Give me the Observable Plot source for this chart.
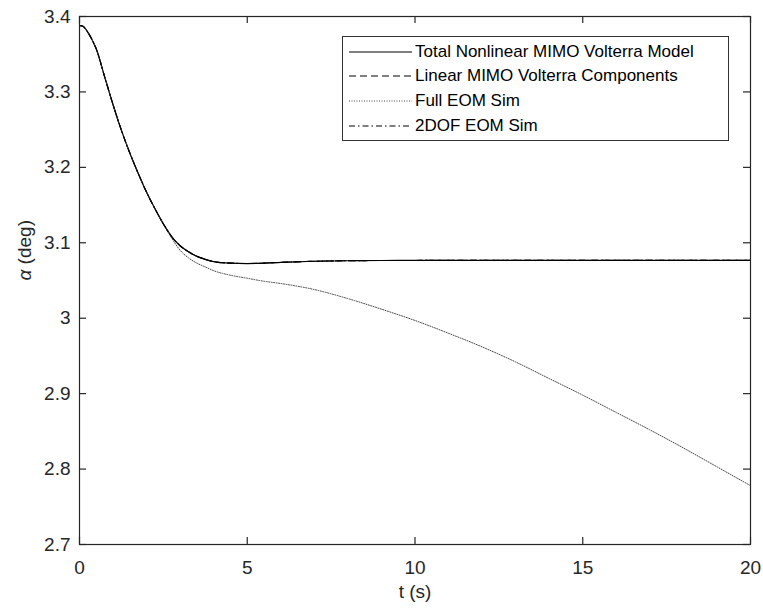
<!DOCTYPE html>
<html>
<head>
<meta charset="utf-8">
<script src="https://cdn.jsdelivr.net/npm/d3@7"></script>
<script src="https://cdn.jsdelivr.net/npm/@observablehq/plot@0.6"></script>
<style>
  body { margin: 0; background: #fff; }
  #wrap { position: relative; width: 763px; height: 613px; font-family: "Liberation Sans", Arial, sans-serif; }
  #legend { position: absolute; left: 342px; top: 36px; width: 387px; height: 105px; border: 1px solid #333; background: #fff; box-sizing: border-box; }
  .row { position: absolute; left: 0; height: 24px; display: flex; align-items: center; white-space: nowrap; color: #000; font-size: 17px; }
  .row svg { margin-left: 6px; margin-right: 3px; }
</style>
</head>
<body>
<div id="wrap"></div>
<script>
// ---- data ----
const t = [0, 0.1, 0.25, 0.4, 0.5, 0.75, 1, 1.25, 1.5, 1.75, 2, 2.25, 2.5, 2.75, 3, 3.25, 3.5, 3.75, 4, 4.5, 5, 5.5, 6, 7, 8, 9, 10, 11, 12, 13, 14, 15, 16, 17, 18, 19, 20];
const totalNonlinear = [3.388, 3.387, 3.379, 3.367, 3.357, 3.320, 3.283, 3.249, 3.219, 3.192, 3.167, 3.145, 3.125, 3.108, 3.096, 3.088, 3.082, 3.078, 3.075, 3.073, 3.0725, 3.073, 3.074, 3.0755, 3.0762, 3.0765, 3.0766, 3.0767, 3.0767, 3.0767, 3.0767, 3.0767, 3.0767, 3.0767, 3.0767, 3.0767, 3.0767];
const linearComponents = [3.388, 3.387, 3.379, 3.367, 3.357, 3.320, 3.283, 3.249, 3.219, 3.192, 3.167, 3.145, 3.125, 3.108, 3.096, 3.088, 3.082, 3.078, 3.075, 3.073, 3.0725, 3.073, 3.074, 3.0755, 3.0762, 3.0765, 3.0766, 3.0767, 3.0767, 3.0767, 3.0767, 3.0767, 3.0767, 3.0767, 3.0767, 3.0767, 3.0767];
const fullEOM = [3.388, 3.387, 3.379, 3.367, 3.357, 3.320, 3.283, 3.249, 3.219, 3.192, 3.167, 3.145, 3.125, 3.106, 3.090, 3.080, 3.073, 3.068, 3.063, 3.057, 3.053, 3.049, 3.046, 3.038, 3.026, 3.012, 2.997, 2.980, 2.962, 2.942, 2.920, 2.898, 2.875, 2.852, 2.828, 2.803, 2.778];
const dof2EOM = [3.388, 3.387, 3.379, 3.367, 3.357, 3.320, 3.283, 3.249, 3.219, 3.192, 3.167, 3.145, 3.125, 3.108, 3.096, 3.088, 3.082, 3.078, 3.075, 3.073, 3.0725, 3.073, 3.074, 3.0755, 3.0762, 3.0765, 3.0766, 3.0767, 3.0767, 3.0767, 3.0767, 3.0767, 3.0767, 3.0767, 3.0767, 3.0767, 3.0767];
const seriesNames = ["Total Nonlinear MIMO Volterra Model", "Linear MIMO Volterra Components", "Full EOM Sim", "2DOF EOM Sim"];
const xTicks = [0, 5, 10, 15, 20];
const yTicks = [2.7, 2.8, 2.9, 3.0, 3.1, 3.2, 3.3, 3.4];
const yTickLabels = ["2.7", "2.8", "2.9", "3", "3.1", "3.2", "3.3", "3.4"];
const xLabel = "t (s)";
const yLabel = "α (deg)";

// ---- styles ----
const styles = [
  {stroke: "#000", width: 1.2, dash: null},
  {stroke: "#000", width: 1.1, dash: "7,4"},
  {stroke: "#444", width: 1, dash: "1,1.5"},
  {stroke: "#000", width: 1.1, dash: "6,3,1.5,3"}
];
const allSeries = [totalNonlinear, linearComponents, fullEOM, dof2EOM];

const W = 763, H = 613, mt = 16, mr = 13, mb = 69, ml = 79;
const innerW = W - ml - mr, innerH = H - mt - mb;
const axisColor = "#262626";

const lineMarks = allSeries.map((vals, k) =>
  Plot.line(t.map((ti, i) => ({t: ti, v: vals[i]})), {
    x: "t", y: "v", curve: "monotone-x", stroke: styles[k].stroke, strokeWidth: styles[k].width,
    strokeDasharray: styles[k].dash
  })
);

const chart = Plot.plot({
  width: W, height: H,
  marginTop: mt, marginRight: mr, marginBottom: mb, marginLeft: ml,
  style: {fontFamily: "'Liberation Sans', Arial, sans-serif", color: axisColor, background: "#fff"},
  x: {domain: [0, 20]},
  y: {domain: [2.7, 3.4]},
  marks: [
    ...lineMarks,
    Plot.tickX(xTicks, {x: d => d, insetTop: innerH - 7, stroke: axisColor, strokeWidth: 1.2}),
    Plot.tickX(xTicks, {x: d => d, insetBottom: innerH - 7, stroke: axisColor, strokeWidth: 1.2}),
    Plot.tickY(yTicks, {y: d => d, insetRight: innerW - 7, stroke: axisColor, strokeWidth: 1.2}),
    Plot.tickY(yTicks, {y: d => d, insetLeft: innerW - 7, stroke: axisColor, strokeWidth: 1.2}),
    Plot.axisX(xTicks, {tickSize: 0, tickPadding: 16, fontSize: 19, label: null}),
    Plot.axisY(yTicks, {tickSize: 0, tickPadding: 9, fontSize: 19, label: null,
      tickFormat: d => yTickLabels[yTicks.indexOf(d)]}),
    Plot.text([xLabel], {text: d => d, frameAnchor: "bottom", dy: 53, fontSize: 19, fill: axisColor}),
    Plot.text([yLabel], {text: d => d, frameAnchor: "left", dx: -55, rotate: -90, fontSize: 19, fill: axisColor}),
    Plot.frame({stroke: axisColor, strokeWidth: 1.2})
  ]
});

const wrap = document.getElementById("wrap");
wrap.appendChild(chart);

// italic alpha in the y label
chart.querySelectorAll("text").forEach(el => {
  if (el.textContent === yLabel) {
    el.textContent = "";
    const ns = "http://www.w3.org/2000/svg";
    const a = document.createElementNS(ns, "tspan");
    a.setAttribute("font-style", "italic");
    a.textContent = yLabel.slice(0, 1);
    const r = document.createElementNS(ns, "tspan");
    r.textContent = yLabel.slice(1);
    el.appendChild(a); el.appendChild(r);
  }
});

// legend
const legend = document.createElement("div");
legend.id = "legend";
const rowCenters = [16, 40, 65, 90];
seriesNames.forEach((name, k) => {
  const row = document.createElement("div");
  row.className = "row";
  row.style.top = (rowCenters[k] - 12 - 1) + "px";
  const s = styles[k];
  row.innerHTML = `<svg width="63" height="10"><line x1="0" x2="63" y1="5" y2="5" stroke="${s.stroke}" stroke-width="${s.width}" ${s.dash ? `stroke-dasharray="${s.dash}"` : ""}/></svg><span>${name}</span>`;
  legend.appendChild(row);
});
wrap.appendChild(legend);
</script>
</body>
</html>
